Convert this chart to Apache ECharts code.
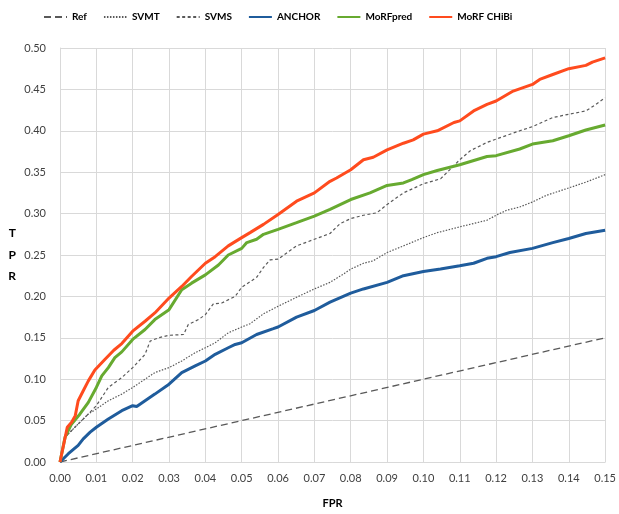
<!DOCTYPE html>
<html><head><meta charset="utf-8">
<script src="https://cdn.jsdelivr.net/npm/echarts@6/dist/echarts.min.js"></script>
<style>html,body{margin:0;padding:0;background:#fff}#c{width:619px;height:514px}</style>
</head><body><div id="c"></div>
<script>
const seriesNames = ['Ref','SVMT','SVMS','ANCHOR','MoRFpred','MoRF CHiBi'];
const xTicks = [0,0.01,0.02,0.03,0.04,0.05,0.06,0.07,0.08,0.09,0.10,0.11,0.12,0.13,0.14,0.15];
const yTicks = [0,0.05,0.10,0.15,0.20,0.25,0.30,0.35,0.40,0.45,0.50];

const refFpr = [0, 0.05, 0.10, 0.15];
const refTpr = [0, 0.05, 0.10, 0.15];

const svmtFpr = [0,0.0014,0.0041,0.0078,0.010,0.0133,0.017,0.020,0.0234,0.0261,0.030,0.0335,0.0372,0.040,0.0427,0.0463,0.050,0.0523,0.056,0.060,0.0651,0.070,0.0743,0.078,0.080,0.0835,0.0862,0.090,0.0945,0.100,0.1038,0.110,0.1175,0.120,0.1229,0.1265,0.130,0.1338,0.140,0.1447,0.150];
const svmtTpr = [0,0.030,0.042,0.058,0.064,0.074,0.082,0.090,0.100,0.108,0.114,0.122,0.132,0.138,0.144,0.156,0.163,0.167,0.179,0.188,0.199,0.209,0.217,0.227,0.233,0.240,0.243,0.253,0.261,0.271,0.277,0.284,0.292,0.298,0.304,0.308,0.314,0.322,0.331,0.338,0.347];

const svmsFpr = [0,0.0014,0.0041,0.0078,0.010,0.0133,0.017,0.020,0.0234,0.0248,0.0271,0.030,0.034,0.0353,0.0381,0.040,0.0422,0.0445,0.0482,0.050,0.0541,0.056,0.0578,0.060,0.0651,0.070,0.0743,0.0771,0.080,0.0835,0.0872,0.090,0.0945,0.100,0.1047,0.1075,0.110,0.1129,0.1175,0.120,0.1265,0.130,0.1356,0.140,0.1447,0.1475,0.150];
const svmsTpr = [0,0.030,0.042,0.058,0.068,0.090,0.102,0.114,0.130,0.146,0.150,0.153,0.154,0.166,0.172,0.178,0.191,0.192,0.200,0.211,0.223,0.235,0.244,0.245,0.261,0.269,0.276,0.288,0.294,0.298,0.301,0.311,0.325,0.336,0.342,0.354,0.365,0.376,0.386,0.390,0.400,0.405,0.416,0.420,0.424,0.432,0.440];

const anchorFpr = [0,0.0023,0.005,0.0064,0.0083,0.010,0.0133,0.017,0.020,0.0211,0.0234,0.0261,0.030,0.0335,0.0372,0.040,0.0427,0.0463,0.0482,0.050,0.0541,0.0587,0.060,0.0651,0.070,0.0743,0.080,0.0835,0.090,0.0945,0.100,0.1047,0.110,0.1138,0.1175,0.120,0.1238,0.130,0.1356,0.140,0.1447,0.150];
const anchorTpr = [0,0.010,0.020,0.028,0.036,0.042,0.052,0.062,0.068,0.067,0.074,0.082,0.094,0.108,0.116,0.122,0.130,0.138,0.142,0.144,0.154,0.161,0.163,0.175,0.183,0.193,0.204,0.209,0.217,0.225,0.230,0.233,0.237,0.240,0.246,0.248,0.253,0.258,0.265,0.270,0.276,0.280];

const morfpredFpr = [0,0.0014,0.0032,0.0055,0.0078,0.010,0.0115,0.0133,0.0151,0.017,0.020,0.0234,0.0261,0.030,0.0335,0.0362,0.040,0.0436,0.0463,0.050,0.0514,0.0541,0.056,0.060,0.0651,0.070,0.0743,0.080,0.0853,0.090,0.0945,0.0968,0.100,0.1038,0.110,0.1175,0.120,0.1265,0.130,0.1356,0.140,0.1447,0.150];
const morfpredTpr = [0,0.030,0.046,0.058,0.072,0.090,0.104,0.114,0.126,0.133,0.148,0.160,0.172,0.184,0.208,0.216,0.226,0.238,0.250,0.258,0.265,0.269,0.275,0.281,0.289,0.297,0.305,0.317,0.325,0.334,0.337,0.341,0.347,0.352,0.359,0.369,0.370,0.378,0.384,0.388,0.394,0.401,0.407];

const chibiFpr = [0,0.002,0.0032,0.0042,0.005,0.0064,0.0078,0.0096,0.0124,0.0148,0.017,0.020,0.0234,0.0261,0.030,0.0335,0.0362,0.040,0.0427,0.0463,0.050,0.0523,0.056,0.060,0.0651,0.070,0.0743,0.0761,0.080,0.0835,0.0862,0.090,0.0945,0.0972,0.100,0.1038,0.1084,0.110,0.1138,0.1175,0.120,0.1247,0.130,0.132,0.1356,0.140,0.1447,0.1465,0.150];
const chibiTpr = [0,0.042,0.048,0.056,0.074,0.086,0.098,0.111,0.124,0.135,0.143,0.158,0.170,0.180,0.198,0.212,0.224,0.240,0.248,0.261,0.271,0.277,0.287,0.299,0.315,0.325,0.339,0.343,0.353,0.365,0.368,0.377,0.385,0.389,0.396,0.400,0.410,0.412,0.424,0.432,0.436,0.448,0.456,0.462,0.468,0.475,0.479,0.483,0.488];

const zip = (a,b) => a.map((v,i)=>[v,b[i]]);
const gray = '#595959';
const styles = [
  {color:gray, width:1.3, type:[7,4]},
  {color:gray, width:1.2, type:[1.5,1.5]},
  {color:gray, width:1.2, type:[3,2.5]},
  {color:'#1f5c9c', width:3, type:'solid'},
  {color:'#67aa30', width:3, type:'solid'},
  {color:'#ff4b1e', width:3, type:'solid'}
];
const datas = [zip(refFpr,refTpr), zip(svmtFpr,svmtTpr), zip(svmsFpr,svmsTpr), zip(anchorFpr,anchorTpr), zip(morfpredFpr,morfpredTpr), zip(chibiFpr,chibiTpr)];

const font = 'Lato, "Open Sans", sans-serif';
const chart = echarts.init(document.getElementById('c'), null, {renderer:'canvas'});
chart.setOption({
  animation:false,
  backgroundColor:'#fff',
  legend:{
    show:true, top:7, left:38, itemWidth:23, itemHeight:1, itemGap:16,
    itemStyle:{color:'rgba(0,0,0,0)', borderWidth:0},
    textStyle:{fontFamily:font, fontWeight:'bold', fontSize:10, color:'#000'},
    data: seriesNames
  },
  grid:{left:60, right:11.5, top:48, bottom:49, containLabel:false},
  xAxis:{
    type:'value', min:0, max:0.15, interval:0.01,
    name:'FPR', nameLocation:'middle', nameGap:36,
    nameTextStyle:{fontFamily:font, fontWeight:'bold', fontSize:11, color:'#000'},
    axisLine:{show:true, lineStyle:{color:'#d9d9d9'}},
    axisTick:{show:false},
    axisLabel:{fontFamily:font, fontSize:11, color:'#404040', margin:11, formatter:v=>v.toFixed(2)},
    splitLine:{show:true, lineStyle:{color:'#d9d9d9', width:1}}
  },
  yAxis:{
    type:'value', min:0, max:0.5, interval:0.05,
    name:'T\nP\nR', nameLocation:'middle', nameGap:44, nameRotate:0,
    nameTextStyle:{fontFamily:font, fontWeight:'bold', fontSize:12, color:'#000', lineHeight:21.5},
    axisLine:{show:true, lineStyle:{color:'#d9d9d9'}},
    axisTick:{show:false},
    axisLabel:{fontFamily:font, fontSize:11, color:'#404040', margin:14, formatter:v=>v.toFixed(2)},
    splitLine:{show:true, lineStyle:{color:'#d9d9d9', width:1}}
  },
  series: seriesNames.map((n,i)=>({
    name:n, type:'line', data:datas[i], showSymbol:false, symbol:'none',
    lineStyle:styles[i], itemStyle:{color:styles[i].color}, z: i+2
  }))
});
</script></body></html>
